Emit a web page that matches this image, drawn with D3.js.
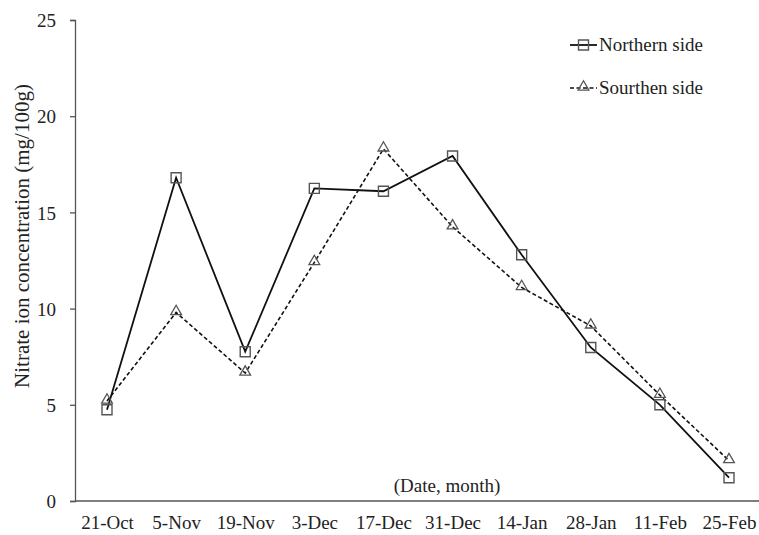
<!DOCTYPE html>
<html>
<head>
<meta charset="utf-8">
<script src="https://cdn.jsdelivr.net/npm/d3@7"></script>
<style>
  body { margin: 0; background: #fff; }
  svg text { font-family: "Liberation Serif", "Times New Roman", serif; fill: #222; }
</style>
</head>
<body>
<svg class="chart"></svg>
<script>
const dates = ['21-Oct', '5-Nov', '19-Nov', '3-Dec', '17-Dec', '31-Dec', '14-Jan', '28-Jan', '11-Feb', '25-Feb'];
const northern = [4.74, 16.8, 7.76, 16.25, 16.1, 17.93, 12.8, 7.98, 5.0, 1.21];
const southern = [5.2, 9.8, 6.65, 12.4, 18.3, 14.25, 11.1, 9.1, 5.5, 2.1];
const yTicks = [0, 5, 10, 15, 20, 25];

const width = 759,
      height = 535,
      margins = {top: 20, right: 0, bottom: 34, left: 75};

const svg = d3.select('.chart')
  .attr('width', width)
  .attr('height', height);

const xScale = d3.scalePoint()
  .domain(dates)
  .range([107, 729]);

const yScale = d3.scaleLinear()
  .domain([0, 25])
  .range([height - margins.bottom, margins.top]);

// y axis
const yAxis = svg.append('g')
  .attr('transform', 'translate(' + margins.left + ',0)')
  .call(d3.axisLeft(yScale).tickValues(yTicks).tickSize(5).tickPadding(14));
yAxis.selectAll('path, line').attr('stroke', '#555').attr('stroke-width', 1.3);
yAxis.selectAll('text').style('font-size', '19px').attr('dy', '0.35em');

// x axis (labels only, line drawn across full width)
const xAxis = svg.append('g')
  .attr('transform', 'translate(0,' + (height - margins.bottom) + ')')
  .call(d3.axisBottom(xScale).tickSize(0).tickPadding(15));
xAxis.select('.domain').remove();
xAxis.selectAll('text').style('font-size', '19px');
svg.append('line')
  .attr('x1', margins.left).attr('x2', width)
  .attr('y1', yScale(0)).attr('y2', yScale(0))
  .attr('stroke', '#555').attr('stroke-width', 1.3);

// lines
const line = d3.line()
  .x((d, i) => xScale(dates[i]))
  .y(d => yScale(d));

svg.append('path')
  .datum(southern)
  .attr('d', line)
  .attr('fill', 'none')
  .attr('stroke', '#111')
  .attr('stroke-width', 1.6)
  .attr('stroke-dasharray', '4,2.5');

svg.append('path')
  .datum(northern)
  .attr('d', line)
  .attr('fill', 'none')
  .attr('stroke', '#111')
  .attr('stroke-width', 1.8);

const square = d3.symbol().type(d3.symbolSquare).size(100);
const triangle = d3.symbol().type(d3.symbolTriangle).size(50);

svg.selectAll('.nmark')
  .data(northern)
  .enter().append('path')
  .attr('class', 'nmark')
  .attr('d', square)
  .attr('transform', (d, i) => 'translate(' + xScale(dates[i]) + ',' + yScale(d) + ')')
  .attr('fill', 'none')
  .attr('stroke', '#555')
  .attr('stroke-width', 1.4);

svg.selectAll('.smark')
  .data(southern)
  .enter().append('path')
  .attr('class', 'smark')
  .attr('d', triangle)
  .attr('transform', (d, i) => 'translate(' + xScale(dates[i]) + ',' + (yScale(d) - 1) + ')')
  .attr('fill', 'none')
  .attr('stroke', '#555')
  .attr('stroke-width', 1.3);

// axis titles
svg.append('text')
  .style('font-size', '21px')
  .style('text-anchor', 'middle')
  .attr('x', -236)
  .attr('y', 29)
  .attr('transform', 'rotate(-90)')
  .text('Nitrate ion concentration (mg/100g)');

svg.append('text')
  .style('font-size', '19px')
  .style('text-anchor', 'middle')
  .attr('x', 447)
  .attr('y', 492)
  .text('(Date, month)');

// legend
const legend = svg.append('g').attr('transform', 'translate(570,45)');
legend.append('line')
  .attr('x1', 0).attr('x2', 27).attr('y1', 0).attr('y2', 0)
  .attr('stroke', '#111').attr('stroke-width', 1.8);
legend.append('path')
  .attr('d', square)
  .attr('transform', 'translate(13.5,0)')
  .attr('fill', 'none').attr('stroke', '#555').attr('stroke-width', 1.4);
legend.append('text')
  .style('font-size', '19px')
  .attr('x', 29).attr('y', 6)
  .text('Northern side');

legend.append('line')
  .attr('x1', 0).attr('x2', 27).attr('y1', 43).attr('y2', 43)
  .attr('stroke', '#111').attr('stroke-width', 1.6)
  .attr('stroke-dasharray', '4,2.5');
legend.append('path')
  .attr('d', triangle)
  .attr('transform', 'translate(13.5,42)')
  .attr('fill', 'none').attr('stroke', '#555').attr('stroke-width', 1.3);
legend.append('text')
  .style('font-size', '19px')
  .attr('x', 29).attr('y', 49)
  .text('Sourthen side');
</script>
</body>
</html>
